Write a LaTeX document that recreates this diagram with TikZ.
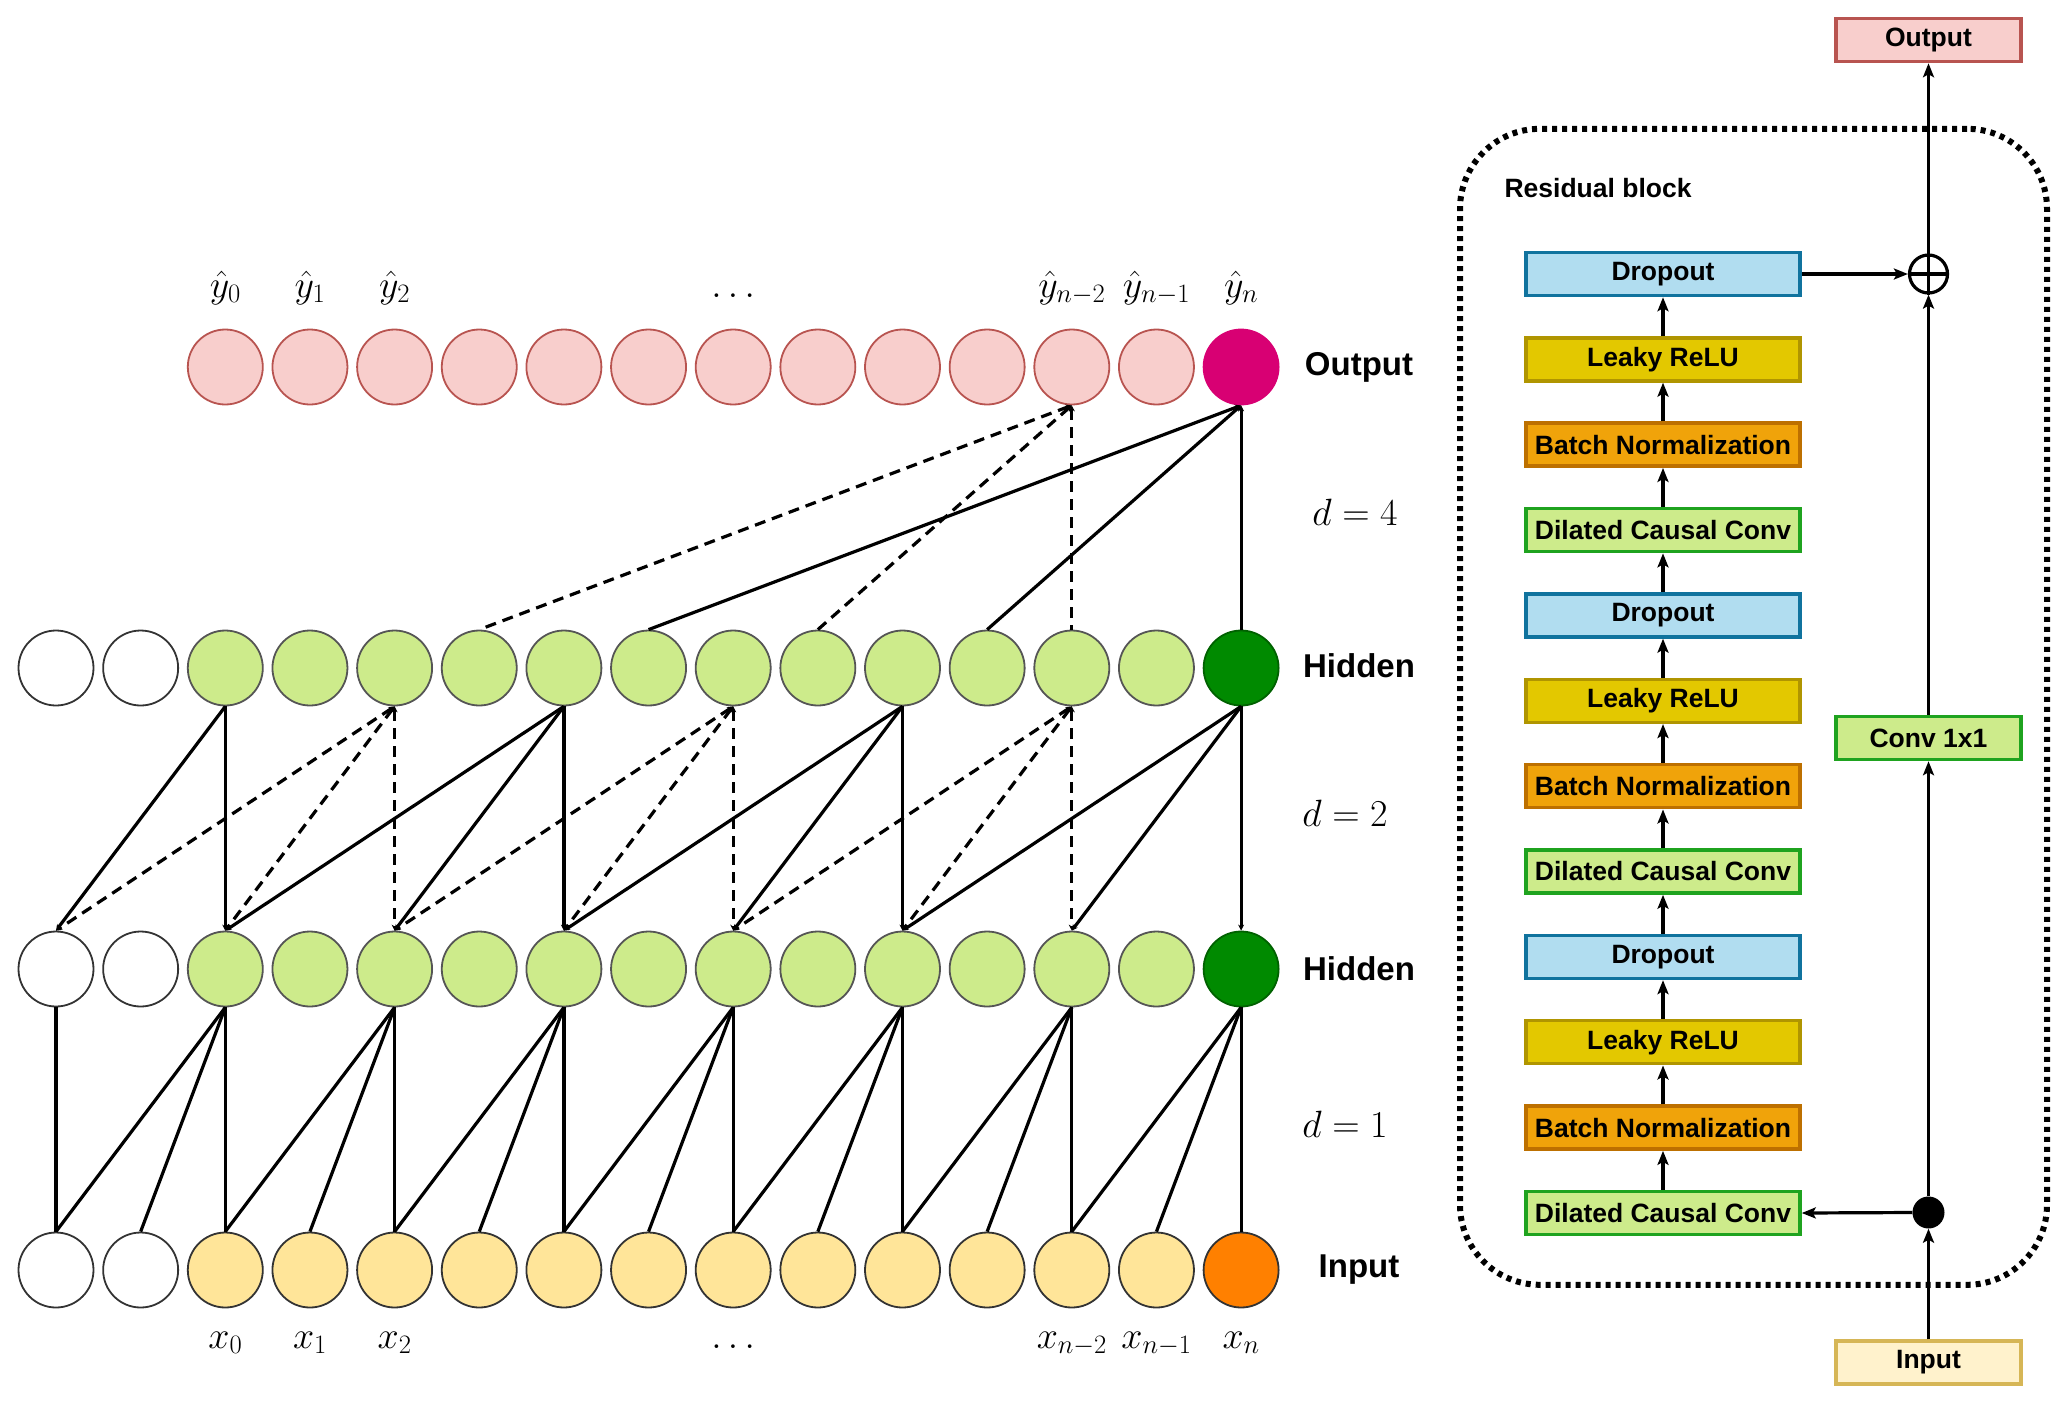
\documentclass[tikz,border=0pt]{standalone}
\usepackage{fix-cm}
\usepackage{fontspec}
\newfontfamily\lab{Liberation Sans}
\usetikzlibrary{arrows.meta}
\definecolor{pinkF}{HTML}{F8CECC}
\definecolor{pinkD}{HTML}{B85450}
\definecolor{magF}{HTML}{D80073}
\definecolor{grnF}{HTML}{CDEB8B}
\definecolor{grnDk}{HTML}{008A00}
\definecolor{yelF}{HTML}{FFE599}
\definecolor{orgF}{HTML}{FF8000}
\definecolor{dropF}{HTML}{B1DDF0}
\definecolor{dropD}{HTML}{10739E}
\definecolor{reluF}{HTML}{E3C800}
\definecolor{reluD}{HTML}{B09500}
\definecolor{bnF}{HTML}{F0A30A}
\definecolor{bnD}{HTML}{BD7000}
\definecolor{convD}{HTML}{1FA31F}
\definecolor{inF}{HTML}{FFF2CC}
\definecolor{inD}{HTML}{D6B656}
\definecolor{nodeD}{HTML}{555555}
\tikzset{
  neuron/.style={circle, minimum size=75pt, inner sep=0pt, line width=1.8pt, draw=nodeD},
  edge/.style={line width=3.2pt},
  dsh/.style={line width=3.2pt, dash pattern=on 11pt off 7pt},
  tinytip/.style={-{Stealth[length=6pt,width=6pt]}},
  bothtip/.style={{Stealth[length=6pt,width=6pt]}-{Stealth[length=6pt,width=6pt]}},
  uptip/.style={{Stealth[length=6pt,width=6pt]}-},
  rowlab/.style={font=\lab\bfseries\fontsize{33}{38}\selectfont},
  mathlab/.style={font=\fontsize{38}{44}\selectfont, anchor=base},
  blk/.style={rectangle, minimum width=274pt, minimum height=43pt, line width=3.5pt, inner sep=0pt, font=\lab\bfseries\fontsize{26.5}{30}\selectfont},
  sbox/.style={blk, minimum width=185pt},
  dropbox/.style={blk, fill=dropF, draw=dropD},
  relubox/.style={blk, fill=reluF, draw=reluD},
  bnbox/.style={blk, fill=bnF, draw=bnD},
  convbox/.style={blk, fill=grnF, draw=convD},
  arr/.style={line width=3.2pt, -{Stealth[length=14pt,width=11pt,inset=3pt]}}
}
\begin{document}
\begin{tikzpicture}[x=1pt,y=-1pt]
\useasboundingbox (0,0) rectangle (2067,1403);
% ---------- left: TCN ----------
% input row
\foreach \c in {2,...,13} \node[neuron, fill=yelF, draw=black!80] (i\c) at ({56+84.65*\c},1270) {};
\node[neuron, fill=white, draw=black!80] (i0) at (56,1270) {};
\node[neuron, fill=white, draw=black!80] (i1) at ({56+84.65},1270) {};
\node[neuron, fill=orgF, draw=black!80] (i14) at ({56+84.65*14},1270) {};
% lower hidden row
\foreach \c in {2,...,13} \node[neuron, fill=grnF] (hl\c) at ({56+84.65*\c},969) {};
\node[neuron, fill=white, draw=black!80] (hl0) at (56,969) {};
\node[neuron, fill=white, draw=black!80] (hl1) at ({56+84.65},969) {};
\node[neuron, fill=grnDk, draw=grnDk!70!black] (hl14) at ({56+84.65*14},969) {};
% upper hidden row
\foreach \c in {2,...,13} \node[neuron, fill=grnF] (hu\c) at ({56+84.65*\c},668) {};
\node[neuron, fill=white, draw=black!80] (hu0) at (56,668) {};
\node[neuron, fill=white, draw=black!80] (hu1) at ({56+84.65},668) {};
\node[neuron, fill=grnDk, draw=grnDk!70!black] (hu14) at ({56+84.65*14},668) {};
% output row
\foreach \c in {2,...,13} \node[neuron, fill=pinkF, draw=pinkD] (o\c) at ({56+84.65*\c},367) {};
\node[neuron, fill=magF, draw=magF] (o14) at ({56+84.65*14},367) {};
% d = 1 connections
\draw[edge] (hl0.south) -- (i0.north);
\foreach \k in {2,4,...,14} {
  \pgfmathtruncatemacro\ka{\k-2}
  \pgfmathtruncatemacro\kb{\k-1}
  \draw[edge] (hl\k.south) -- (i\ka.north);
  \draw[edge] (hl\k.south) -- (i\kb.north);
  \draw[edge] (hl\k.south) -- (i\k.north);
}
% d = 2 connections
\draw[edge,tinytip] (hu2.south) -- (hl0.north);
\draw[edge,tinytip] (hu2.south) -- (hl2.north);
\foreach \k in {6,10,14} {
  \pgfmathtruncatemacro\ka{\k-4}
  \pgfmathtruncatemacro\kb{\k-2}
  \draw[edge,tinytip] (hu\k.south) -- (hl\ka.north);
  \draw[edge,tinytip] (hu\k.south) -- (hl\kb.north);
  \draw[edge,tinytip] (hu\k.south) -- (hl\k.north);
}
\foreach \k in {4,8,12} {
  \pgfmathtruncatemacro\ka{\k-4}
  \pgfmathtruncatemacro\kb{\k-2}
  \draw[dsh,bothtip] (hu\k.south) -- (hl\ka.north);
  \draw[dsh,bothtip] (hu\k.south) -- (hl\kb.north);
  \draw[dsh,bothtip] (hu\k.south) -- (hl\k.north);
}
% d = 4 connections
\draw[edge,uptip] (o14.south) -- (hu7.north);
\draw[edge,uptip] (o14.south) -- (hu11.north);
\draw[edge,uptip] (o14.south) -- (hu14.north);
\draw[dsh,uptip] (o12.south) -- (hu5.north);
\draw[dsh,uptip] (o12.south) -- (hu9.north);
\draw[dsh,uptip] (o12.south) -- (hu12.north);
% labels above / below
\node[mathlab] (ly0) at ({56+84.65*2},297) {$\hat{y}_0$};
\node[mathlab] (ly1) at ({56+84.65*3},297) {$\hat{y}_1$};
\node[mathlab] (ly2) at ({56+84.65*4},297) {$\hat{y}_2$};
\node[mathlab] (lyd) at ({56+84.65*8},297) {$\ldots$};
\node[mathlab] (lyn2) at ({56+84.65*12},297) {$\hat{y}_{n-2}$};
\node[mathlab] (lyn1) at ({56+84.65*13},297) {$\hat{y}_{n-1}$};
\node[mathlab] (lyn) at ({56+84.65*14},297) {$\hat{y}_n$};
\node[mathlab] (lx0) at ({56+84.65*2},1348) {$x_0$};
\node[mathlab] (lx1) at ({56+84.65*3},1348) {$x_1$};
\node[mathlab] (lx2) at ({56+84.65*4},1348) {$x_2$};
\node[mathlab] (lxd) at ({56+84.65*8},1348) {$\ldots$};
\node[mathlab] (lxn2) at ({56+84.65*12},1348) {$x_{n-2}$};
\node[mathlab] (lxn1) at ({56+84.65*13},1348) {$x_{n-1}$};
\node[mathlab] (lxn) at ({56+84.65*14},1348) {$x_n$};
% row labels
\node[rowlab] (rOut) at (1359,367) {Output};
\node[rowlab] (rHu) at (1359,666) {Hidden};
\node[rowlab] (rHl) at (1359,969) {Hidden};
\node[rowlab] (rIn) at (1359,1270) {Input};
\node[font=\fontsize{38}{44}\selectfont] (d4) at (1355,512) {$d=4$};
\node[font=\fontsize{38}{44}\selectfont] (d2) at (1345,813) {$d=2$};
\node[font=\fontsize{38}{44}\selectfont] (d1) at (1345,1124) {$d=1$};
% ---------- right: residual block ----------
\node[draw, line width=6pt, dash pattern=on 5pt off 5pt, rounded corners=80pt,
      minimum width=587pt, minimum height=1156pt, inner sep=0pt] (frame) at (1753.5,706.8) {};
\node[anchor=west, font=\lab\bfseries\fontsize{26.5}{30}\selectfont] (rbl) at (1501,188) {Residual block};
\node[dropbox] (b0) at (1663,274) {Dropout};
\node[relubox] (b1) at (1663,359.4) {Leaky ReLU};
\node[bnbox] (b2) at (1663,444.7) {Batch Normalization};
\node[convbox] (b3) at (1663,530.1) {Dilated Causal Conv};
\node[dropbox] (b4) at (1663,615.4) {Dropout};
\node[relubox] (b5) at (1663,700.8) {Leaky ReLU};
\node[bnbox] (b6) at (1663,786.2) {Batch Normalization};
\node[convbox] (b7) at (1663,871.5) {Dilated Causal Conv};
\node[dropbox] (b8) at (1663,956.9) {Dropout};
\node[relubox] (b9) at (1663,1042.2) {Leaky ReLU};
\node[bnbox] (b10) at (1663,1127.6) {Batch Normalization};
\node[convbox] (b11) at (1663,1213) {Dilated Causal Conv};
\foreach \i in {1,...,11} {
  \pgfmathtruncatemacro\j{\i-1}
  \draw[arr] (b\i.north) -- (b\j.south);
}
\node[sbox, fill=pinkF, draw=pinkD] (outp) at (1928.5,40) {Output};
\node[sbox, fill=grnF, draw=convD] (c11) at (1928.5,738) {Conv 1x1};
\node[sbox, fill=inF, draw=inD] (inp) at (1928.5,1362.5) {Input};
\node[circle, draw, line width=3.2pt, minimum size=38pt, inner sep=0pt] (plus) at (1928.5,274) {};
\draw[line width=3.2pt] (plus.west) -- (plus.east);
\node[circle, fill=black, minimum size=32pt, inner sep=0pt] (dot) at (1928.5,1212.5) {};
\draw[arr] (b0.east) -- (plus.west);
\draw[arr] (c11.north) -- (plus.south);
\draw[arr] (plus.south) -- (outp.south);
\draw[arr] (dot.north) -- (c11.south);
\draw[arr] (inp.north) -- (dot.south);
\draw[arr] (dot.west) -- (b11.east);
\end{tikzpicture}
\end{document}
